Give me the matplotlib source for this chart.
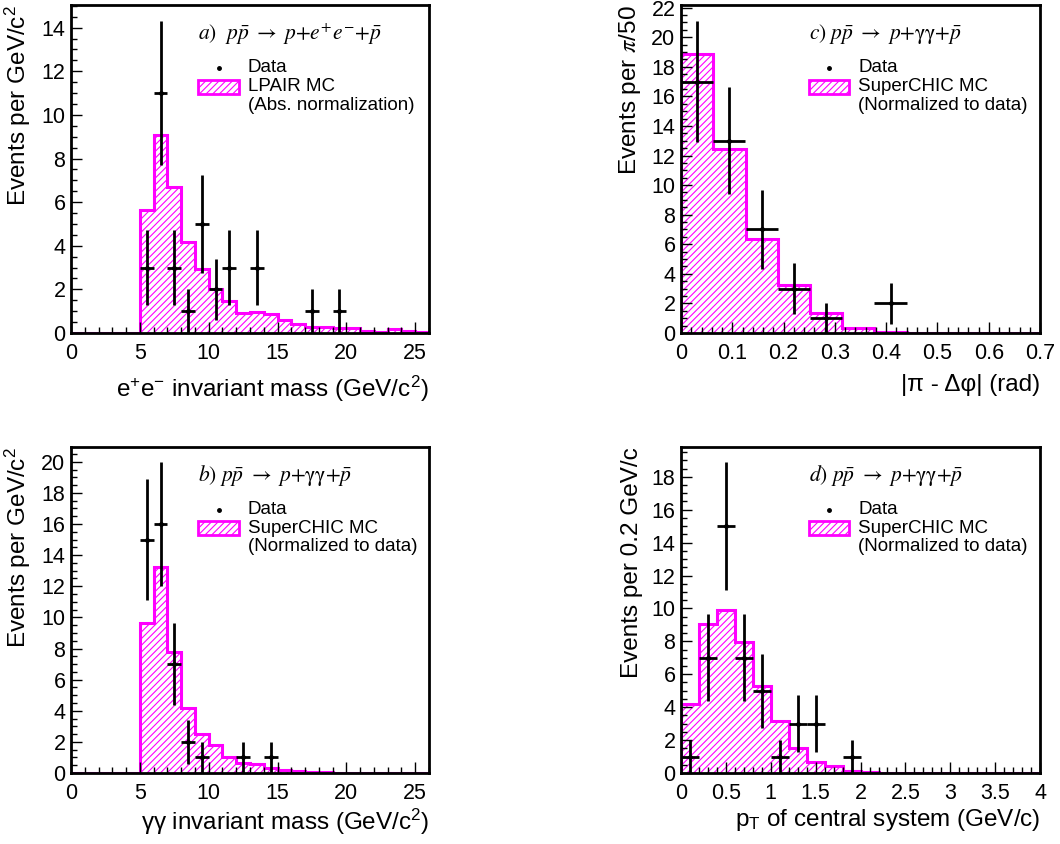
import numpy as np
import matplotlib
matplotlib.use("Agg")
import matplotlib.pyplot as plt
from matplotlib.patches import Rectangle
from matplotlib.ticker import MultipleLocator, AutoMinorLocator

plt.rcParams["font.family"] = ["Liberation Sans", "DejaVu Sans"]
plt.rcParams["mathtext.fontset"] = "stix"
plt.rcParams["hatch.linewidth"] = 0.8

MAGENTA = "#ff00ff"

# a) e+e- invariant mass, 1 GeV bins from 0 to 26
edges_a = np.arange(0, 27, 1.0)
mc_a = [0, 0, 0, 0, 0, 5.66, 9.07, 6.70, 4.16, 2.94, 2.02, 1.48, 0.93, 0.95,
        0.87, 0.60, 0.41, 0.29, 0.26, 0.21, 0.24, 0.09, 0.06, 0.17, 0.11, 0.06]
x_a = [5.5, 6.5, 7.5, 8.5, 9.5, 10.5, 11.5, 13.5, 17.5, 19.5]
n_a = [3, 11, 3, 1, 5, 2, 3, 3, 1, 1]
err_a = [1.73, 3.32, 1.73, 1.0, 2.24, 1.41, 1.73, 1.73, 1.0, 1.0]

# b) gamma gamma invariant mass, 1 GeV bins
edges_b = np.arange(0, 27, 1.0)
mc_b = [0, 0, 0, 0, 0, 9.63, 13.22, 7.76, 4.21, 2.52, 1.78, 1.05, 0.66, 0.58,
        0.30, 0.19, 0.10, 0.08, 0.06, 0.0, 0.0, 0.0, 0.0, 0.0, 0.0, 0.0]
x_b = [5.5, 6.5, 7.5, 8.5, 9.5, 12.5, 14.5]
n_b = [15, 16, 7, 2, 1, 1, 1]
err_b = [3.87, 4.0, 2.65, 1.41, 1.0, 1.0, 1.0]

# c) |pi - dphi|, pi/50 bins
edges_c = np.arange(0, 13) * np.pi / 50
mc_c = [18.87, 12.43, 6.35, 3.24, 1.36, 0.34, 0.07, 0.02, 0.02, 0.02, 0.02, 0.02]
x_c = [0.0314, 0.0942, 0.1571, 0.2199, 0.2827, 0.4084]
n_c = [17, 13, 7, 3, 1, 2]
err_c = [4.12, 3.61, 2.65, 1.73, 1.0, 1.41]

# d) pT of central system, 0.2 GeV/c bins
edges_d = np.arange(0, 21) * 0.2
mc_d = [4.19, 9.07, 9.88, 7.96, 5.30, 3.18, 1.52, 0.69, 0.43, 0.14,
        0.06, 0.02, 0.02, 0.02, 0.02, 0.02, 0.02, 0.02, 0.02, 0.02]
x_d = [0.1, 0.3, 0.5, 0.7, 0.9, 1.1, 1.3, 1.5, 1.9]
n_d = [1, 7, 15, 7, 5, 1, 3, 3, 1]
err_d = [1.0, 2.65, 3.87, 2.65, 2.24, 1.0, 1.73, 1.73, 1.0]


def draw_panel(ax, edges, mc, x, n, err, xmax, ymax, xmajor, ymajor,
               title, mc_label, ylabel, xlabel, xlab_y):
    ax.stairs(mc, edges, fill=True, facecolor="none", edgecolor=MAGENTA,
              hatch="/////", linewidth=0)
    ax.stairs(mc, edges, color=MAGENTA, linewidth=2.2)
    halfw = (edges[1] - edges[0]) / 2
    ax.errorbar(x, n, yerr=err, xerr=halfw, fmt="o", ms=2.5, color="k",
                elinewidth=2, capsize=0)

    ax.set_xlim(0, xmax)
    ax.set_ylim(0, ymax)
    ax.xaxis.set_major_locator(MultipleLocator(xmajor))
    ax.xaxis.set_minor_locator(AutoMinorLocator(5))
    ax.yaxis.set_major_locator(MultipleLocator(ymajor))
    ax.yaxis.set_minor_locator(AutoMinorLocator(4))
    ax.tick_params(which="both", direction="in", top=False, right=False,
                   labelsize=15.5, width=1)
    ax.tick_params(axis="x", which="both", pad=7)
    ax.tick_params(axis="y", which="both", pad=4)
    ax.tick_params(which="major", length=8)
    ax.tick_params(which="minor", length=4)
    for s in ax.spines.values():
        s.set_linewidth(2)

    ax.set_ylabel(ylabel, fontsize=17.5, loc="top")
    ax.yaxis.set_label_coords(-0.105, 1.0)
    ax.set_xlabel(xlabel, fontsize=17.5, loc="right")
    ax.xaxis.set_label_coords(1.0, xlab_y)

    # title and legend
    ax.text(0.355, 0.912, title, transform=ax.transAxes, fontsize=15.5,
            va="center", ha="left")
    ax.plot([0.413], [0.808], "o", ms=2.5, color="k", transform=ax.transAxes)
    ax.add_patch(Rectangle((0.355, 0.729), 0.114, 0.043, transform=ax.transAxes,
                           facecolor="none", edgecolor=MAGENTA, hatch="/////",
                           linewidth=2))
    for yy, txt in zip([0.808, 0.750, 0.695], ["Data"] + mc_label):
        ax.text(0.494, yy, txt, transform=ax.transAxes, fontsize=13.5,
                va="center", ha="left")


fig = plt.figure(figsize=(10.6, 8.44), dpi=100)
ax_a = fig.add_axes([0.0670, 0.6055, 0.3377, 0.3886])
ax_c = fig.add_axes([0.6425, 0.6055, 0.3387, 0.3886])
ax_b = fig.add_axes([0.0670, 0.0841, 0.3377, 0.3863])
ax_d = fig.add_axes([0.6425, 0.0841, 0.3387, 0.3863])

draw_panel(ax_a, edges_a, mc_a, x_a, n_a, err_a, 26, 15.04, 5, 2,
           r"$a)\ \ p\bar{p}\ \rightarrow\ p{+}e^{+}e^{-}{+}\bar{p}$",
           ["LPAIR MC", "(Abs. normalization)"],
           r"Events per GeV/$\mathregular{c^{2}}$",
           r"$\mathregular{e^{+}e^{-}}$ invariant mass (GeV/$\mathregular{c^{2}}$)",
           -0.125)
draw_panel(ax_b, edges_b, mc_b, x_b, n_b, err_b, 26, 20.95, 5, 2,
           r"$b)\ p\bar{p}\ \rightarrow\ p{+}\mathrm{\gamma\gamma}{+}\bar{p}$",
           ["SuperCHIC MC", "(Normalized to data)"],
           r"Events per GeV/$\mathregular{c^{2}}$",
           r"γγ invariant mass (GeV/$\mathregular{c^{2}}$)",
           -0.105)
draw_panel(ax_c, edges_c, mc_c, x_c, n_c, err_c, 0.7, 22.18, 0.1, 2,
           r"$c)\ p\bar{p}\ \rightarrow\ p{+}\mathrm{\gamma\gamma}{+}\bar{p}$",
           ["SuperCHIC MC", "(Normalized to data)"],
           r"Events per $\pi$/50",
           "|π - Δφ| (rad)",
           -0.125)
draw_panel(ax_d, edges_d, mc_d, x_d, n_d, err_d, 4, 19.81, 0.5, 2,
           r"$d)\ p\bar{p}\ \rightarrow\ p{+}\mathrm{\gamma\gamma}{+}\bar{p}$",
           ["SuperCHIC MC", "(Normalized to data)"],
           "Events per 0.2 GeV/c",
           r"$\mathregular{p_{T}}$ of central system (GeV/c)",
           -0.105)

ax_c.xaxis.set_major_formatter(plt.FuncFormatter(lambda v, p: "0" if v == 0 else f"{v:g}"))
ax_d.xaxis.set_major_formatter(plt.FuncFormatter(lambda v, p: f"{v:g}"))

fig.savefig("out.png", dpi=100)
